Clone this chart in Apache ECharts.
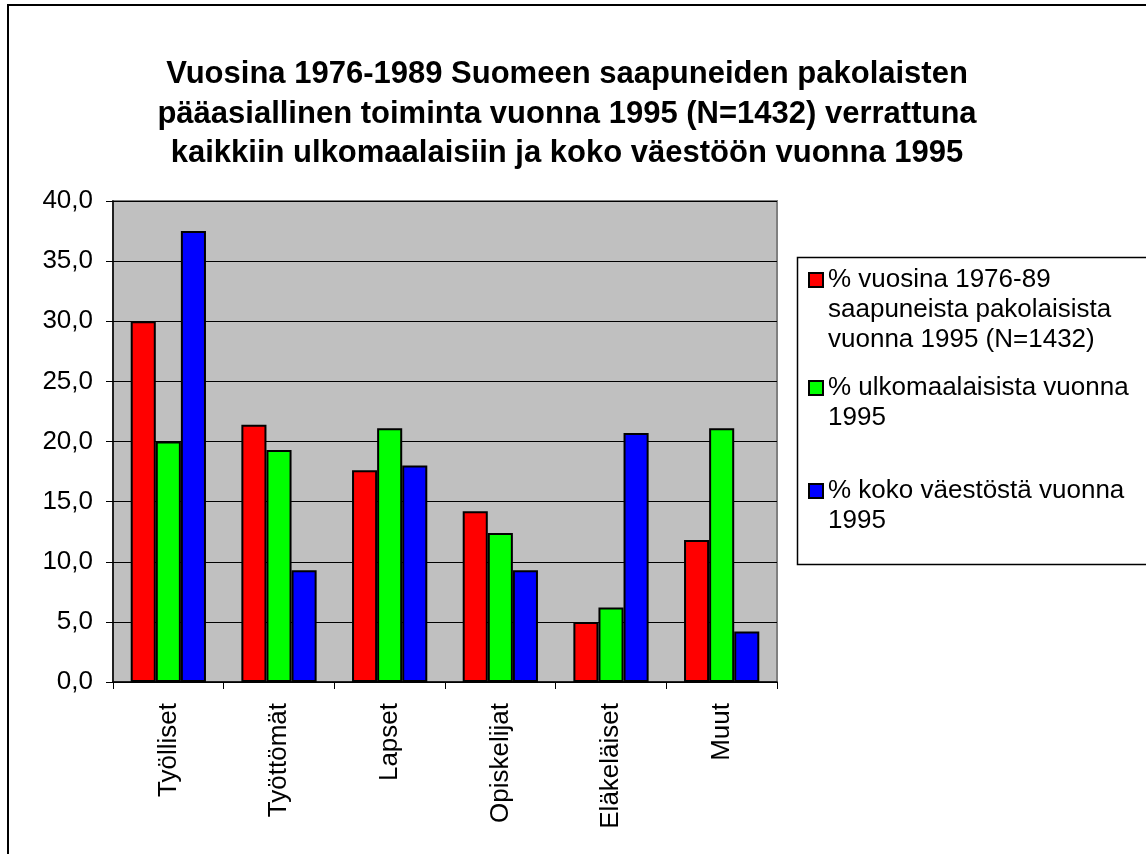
<!DOCTYPE html>
<html>
<head>
<meta charset="utf-8">
<script src="https://cdn.jsdelivr.net/npm/echarts@6/dist/echarts.min.js"></script>
<style>
  html, body { margin: 0; padding: 0; background: #fff; }
  #chart { width: 1146px; height: 854px; }
</style>
</head>
<body>
<div id="chart"></div>
<script>
// data
var categories = ["Työlliset", "Työttömät", "Lapset", "Opiskelijat", "Eläkeläiset", "Muut"];
var refugees = [30.0, 21.4, 17.6, 14.2, 5.0, 11.8];
var foreigners = [20.0, 19.3, 21.1, 12.4, 6.2, 21.1];
var population = [37.5, 9.3, 18.0, 9.3, 20.7, 4.2];
var seriesNames = [
  "% vuosina 1976-89\nsaapuneista pakolaisista\nvuonna 1995 (N=1432)",
  "% ulkomaalaisista vuonna\n1995",
  "% koko väestöstä vuonna\n1995"
];
var titleText = "Vuosina 1976-1989 Suomeen saapuneiden pakolaisten\npääasiallinen toiminta vuonna 1995 (N=1432) verrattuna\nkaikkiin ulkomaalaisiin ja koko väestöön vuonna 1995";

var FONT = "Liberation Sans";
var myChart = echarts.init(document.getElementById("chart"));

// one legend per entry; the text is centred on the marker, so blank lines
// are put in front to bring the first line level with the marker (like Excel)
function legendFor(name, top) {
  var lines = name.split("\n").length;
  var pre = "";
  for (var i = 0; i < lines - 1; i++) pre += " \n";
  return {
    data: [name],
    left: 808,
    top: top,
    padding: 0,
    itemWidth: 14,
    itemHeight: 14,
    itemGap: 0,
    icon: "rect",
    selectedMode: false,
    formatter: function (n) {
      return pre + n;
    },
    textStyle: {
      fontFamily: FONT,
      fontSize: 26,
      color: "#000",
      lineHeight: 30
    }
  };
}

myChart.setOption({
  animation: false,
  backgroundColor: "#fff",
  title: {
    text: titleText,
    left: 562,
    top: 50,
    textAlign: "center",
    textStyle: {
      fontFamily: FONT,
      fontSize: 31,
      fontWeight: "bold",
      color: "#000",
      lineHeight: 39.5
    }
  },
  graphic: [
    {
      type: "rect",
      shape: { x: 8, y: 5, width: 1300, height: 1000 },
      style: { fill: "none", stroke: "#000", lineWidth: 2 },
      silent: true
    },
    {
      type: "rect",
      shape: { x: 797.5, y: 257.5, width: 400, height: 307 },
      style: { fill: "#fff", stroke: "#000", lineWidth: 1.5 },
      silent: true,
      z: -1
    }
  ],
  legend: [
    legendFor(seriesNames[0], 205),
    legendFor(seriesNames[1], 343),
    legendFor(seriesNames[2], 446)
  ],
  grid: {
    left: 113,
    top: 201,
    right: 369,
    bottom: 172,
    show: true,
    backgroundColor: "#c0c0c0",
    borderColor: "#808080",
    borderWidth: 2
  },
  xAxis: {
    type: "category",
    data: categories,
    axisLine: { show: true, lineStyle: { color: "#000", width: 1.5 } },
    axisTick: { show: true, length: 7, lineStyle: { color: "#000" } },
    axisLabel: {
      rotate: 90,
      margin: 21,
      fontFamily: FONT,
      fontSize: 26,
      color: "#000"
    }
  },
  yAxis: {
    type: "value",
    min: 0,
    max: 40,
    interval: 5,
    axisLine: { show: true, lineStyle: { color: "#000", width: 1.5 } },
    axisTick: { show: true, length: 7, lineStyle: { color: "#000" } },
    splitLine: { show: true, lineStyle: { color: "#000", width: 1 } },
    axisLabel: {
      margin: 20,
      fontFamily: FONT,
      fontSize: 26,
      color: "#000",
      formatter: function (v) {
        return v.toFixed(1).replace(".", ",");
      }
    }
  },
  series: [
    {
      name: seriesNames[0],
      type: "bar",
      data: refugees,
      barGap: "0%",
      barCategoryGap: "32%",
      itemStyle: { color: "#ff0000", borderColor: "#000", borderWidth: 2 }
    },
    {
      name: seriesNames[1],
      type: "bar",
      data: foreigners,
      itemStyle: { color: "#00ff00", borderColor: "#000", borderWidth: 2 }
    },
    {
      name: seriesNames[2],
      type: "bar",
      data: population,
      itemStyle: { color: "#0000ff", borderColor: "#000", borderWidth: 2 }
    }
  ]
});
</script>
</body>
</html>
